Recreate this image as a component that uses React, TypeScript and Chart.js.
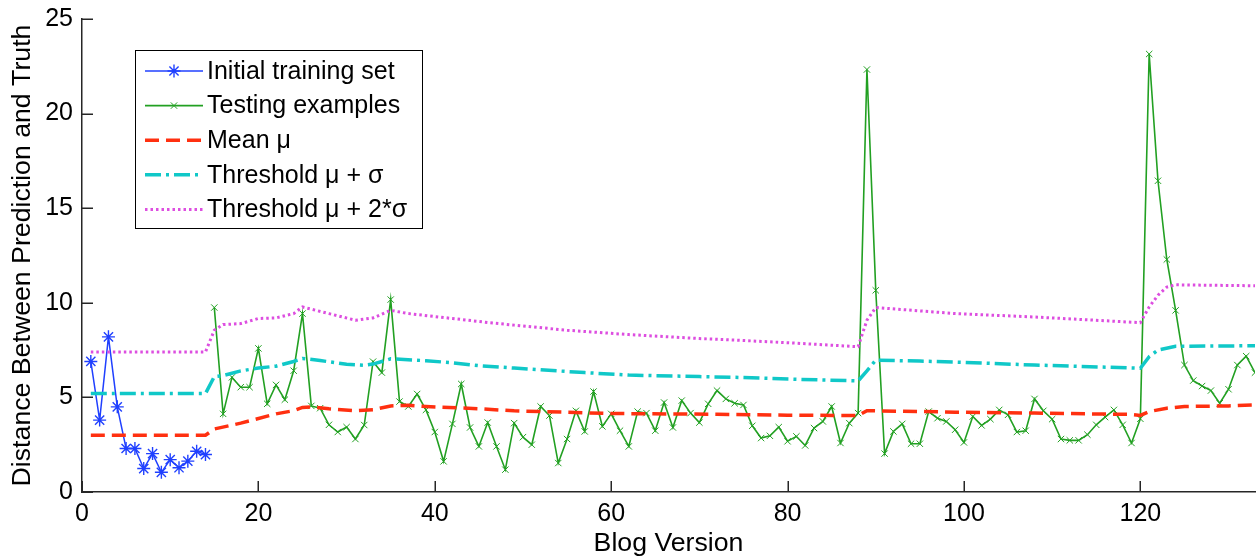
import React, { useEffect, useRef } from 'react';
import { Chart, registerables } from 'chart.js';
import { drawPoint } from 'chart.js/helpers';

Chart.register(...registerables);

// ---- data ----
const trainVersions = [1, 2, 3, 4, 5, 6, 7, 8, 9, 10, 11, 12, 13, 14];
const trainDistance = [6.9, 3.8, 8.2, 4.5, 2.3, 2.3, 1.24, 2.03, 1.04, 1.71, 1.28, 1.63, 2.15, 1.98];

const testFirstVersion = 15;
const testDistance = [
  9.75, 4.13, 6.06, 5.54, 5.54, 7.59, 4.66, 5.66, 4.88, 6.41,
  9.43, 4.55, 4.43, 3.55, 3.17, 3.43, 2.8, 3.54, 6.89, 6.31,
  10.17, 4.78, 4.52, 5.18, 4.34, 3.17, 1.62, 3.6, 5.71, 3.41,
  2.41, 3.67, 2.41, 1.18, 3.64, 2.9, 2.5, 4.52, 4.04, 1.53,
  2.8, 4.29, 3.2, 5.31, 3.47, 4.13, 3.24, 2.41, 4.25, 4.17,
  3.24, 4.73, 3.41, 4.83, 4.17, 3.67, 4.66, 5.36, 4.92, 4.69,
  4.6, 3.5, 2.85, 2.97, 3.43, 2.68, 2.94, 2.46, 3.38, 3.73,
  4.52, 2.59, 3.64, 4.17, 22.33, 10.66, 2.03, 3.2, 3.6, 2.55,
  2.55, 4.25, 3.9, 3.73, 3.29, 2.62, 3.99, 3.52, 3.85, 4.34,
  4.08, 3.17, 3.24, 4.92, 4.29, 3.85, 2.8, 2.73, 2.73, 3.03,
  3.55, 3.96, 4.34, 3.55, 2.59, 3.87, 23.15, 16.45, 12.29, 9.6,
  6.71, 5.89, 5.6, 5.36, 4.69, 5.43, 6.71, 7.18, 6.31,
];

const meanVersions = [1, 14, 15, 18, 22, 24, 25, 26, 28, 31, 33, 35, 37, 39, 45, 49, 60, 72, 80, 88, 89, 99, 108, 119, 120, 121, 123, 125, 130, 133];
const meanValues = [3.0, 3.0, 3.33, 3.64, 4.13, 4.3, 4.47, 4.5, 4.4, 4.3, 4.35, 4.55, 4.58, 4.52, 4.4, 4.29, 4.15, 4.11, 4.06, 4.04, 4.3, 4.22, 4.17, 4.1, 4.05, 4.25, 4.43, 4.52, 4.55, 4.6];

const sigma1Versions = [1, 14, 15, 16, 18, 20, 22, 24, 25, 27, 30, 32, 33, 35, 39, 42, 45, 49, 57, 62, 70, 74, 81, 88, 89, 90, 95, 100, 108, 120, 121, 122, 124, 133];
const sigma1Values = [5.2, 5.2, 6.1, 6.15, 6.4, 6.55, 6.65, 6.9, 7.06, 6.95, 6.75, 6.7, 6.76, 7.04, 6.94, 6.83, 6.68, 6.55, 6.31, 6.18, 6.1, 6.06, 5.96, 5.87, 6.4, 6.97, 6.92, 6.85, 6.71, 6.54, 7.15, 7.5, 7.7, 7.73];

const sigma2Versions = [1, 14, 15, 16, 18, 20, 22, 24, 25, 28, 31, 33, 35, 37, 42, 46, 49, 55, 62, 70, 74, 80, 88, 89, 90, 99, 108, 120, 121, 122, 123, 124, 133];
const sigma2Values = [7.4, 7.4, 8.55, 8.85, 8.9, 9.17, 9.2, 9.43, 9.78, 9.43, 9.08, 9.2, 9.6, 9.43, 9.17, 8.96, 8.82, 8.55, 8.32, 8.11, 8.03, 7.89, 7.68, 9.08, 9.75, 9.43, 9.25, 8.95, 9.78, 10.4, 10.83, 10.95, 10.9];

const xTicks = [0, 20, 40, 60, 80, 100, 120];
const yTicks = [0, 5, 10, 15, 20, 25];

const seriesLabels = [
  'Initial training set',
  'Testing examples',
  'Mean \u03bc',
  'Threshold \u03bc + \u03c3',
  'Threshold \u03bc + 2*\u03c3',
];

const FONT = '"Liberation Sans", Arial, sans-serif';

const zip = (xs: number[], ys: number[]) => xs.map((x, i) => ({ x, y: ys[i] }));

const legendPlugin = {
  id: 'matlabLegend',
  afterDraw(chart: any) {
    const ctx = chart.ctx as CanvasRenderingContext2D;
    ctx.save();
    const bx = 135, by = 50, bw = 287, bh = 178;
    ctx.fillStyle = '#ffffff';
    ctx.fillRect(bx, by, bw, bh);
    ctx.strokeStyle = '#000000';
    ctx.lineWidth = 1;
    ctx.setLineDash([]);
    ctx.strokeRect(bx + 0.5, by + 0.5, bw, bh);
    chart.data.datasets.forEach((ds: any, i: number) => {
      const y = 71 + i * 34.6;
      ctx.save();
      ctx.strokeStyle = ds.borderColor;
      ctx.lineWidth = ds.borderWidth;
      ctx.setLineDash(ds.borderDash || []);
      ctx.beginPath();
      ctx.moveTo(145, y);
      ctx.lineTo(203, y);
      ctx.stroke();
      ctx.setLineDash([]);
      if (ds.pointRadius > 0) {
        ctx.strokeStyle = ds.pointBorderColor;
        ctx.fillStyle = ds.pointBorderColor;
        ctx.lineWidth = ds.pointBorderWidth;
        drawPoint(ctx, { pointStyle: ds.pointStyle, radius: ds.pointRadius, rotation: 0, borderWidth: ds.pointBorderWidth }, 174, y);
      }
      ctx.restore();
      ctx.fillStyle = '#000000';
      ctx.font = `25px ${FONT}`;
      ctx.textBaseline = 'middle';
      ctx.textAlign = 'left';
      ctx.fillText(ds.label, 207, y + 1);
    });
    ctx.restore();
  },
};

const innerTicksPlugin = {
  id: 'innerTicks',
  afterDraw(chart: any) {
    const ctx = chart.ctx as CanvasRenderingContext2D;
    const { x, y } = chart.scales;
    const area = chart.chartArea;
    ctx.save();
    ctx.strokeStyle = '#262626';
    ctx.lineWidth = 1.5;
    ctx.setLineDash([]);
    ctx.beginPath();
    xTicks.forEach((v) => {
      const px = Math.round(x.getPixelForValue(v)) + 0.25;
      ctx.moveTo(px, area.bottom);
      ctx.lineTo(px, area.bottom - 11);
    });
    yTicks.forEach((v) => {
      const py = Math.round(y.getPixelForValue(v)) + 0.25;
      ctx.moveTo(area.left, py);
      ctx.lineTo(area.left + 11, py);
    });
    ctx.stroke();
    ctx.restore();
  },
};

export default function App() {
  const canvasRef = useRef<HTMLCanvasElement | null>(null);

  useEffect(() => {
    document.body.style.margin = '0';
    const canvas = canvasRef.current;
    if (!canvas) return;
    Chart.defaults.font.family = FONT;
    Chart.defaults.color = '#000000';

    const testPoints = testDistance.map((v, i) => ({ x: testFirstVersion + i, y: v }));

    const chart = new Chart(canvas, {
      type: 'line',
      data: {
        datasets: [
          {
            label: seriesLabels[0],
            data: zip(trainVersions, trainDistance),
            borderColor: '#2040ff',
            borderWidth: 1.5,
            pointStyle: 'star',
            pointRadius: 6.5,
            pointBorderColor: '#2040ff',
            pointBackgroundColor: '#2040ff',
            pointBorderWidth: 1.4,
            tension: 0,
            fill: false,
            order: 5,
          } as any,
          {
            label: seriesLabels[1],
            data: testPoints,
            borderColor: '#22a022',
            borderWidth: 1.6,
            pointStyle: 'crossRot',
            pointRadius: 4.5,
            pointBorderColor: '#22a022',
            pointBackgroundColor: '#22a022',
            pointBorderWidth: 1,
            tension: 0,
            fill: false,
            order: 4,
          },
          {
            label: seriesLabels[2],
            data: zip(meanVersions, meanValues),
            borderColor: '#ff3010',
            borderWidth: 3.5,
            borderDash: [14, 7],
            pointRadius: 0,
            tension: 0,
            fill: false,
            order: 3,
          },
          {
            label: seriesLabels[3],
            data: zip(sigma1Versions, sigma1Values),
            borderColor: '#10c8c8',
            borderWidth: 3.5,
            borderDash: [16, 5, 3, 5],
            pointRadius: 0,
            tension: 0,
            fill: false,
            order: 2,
          },
          {
            label: seriesLabels[4],
            data: zip(sigma2Versions, sigma2Values),
            borderColor: '#dd4ee0',
            borderWidth: 3,
            borderDash: [2.5, 3],
            pointRadius: 0,
            tension: 0,
            fill: false,
            order: 1,
          },
        ],
      },
      options: {
        animation: false,
        responsive: false,
        maintainAspectRatio: false,
        layout: { autoPadding: false, padding: { top: 19, right: 2, left: 0, bottom: 0 } },
        plugins: {
          legend: { display: false },
          tooltip: { enabled: false },
          title: { display: false },
        },
        scales: {
          x: {
            type: 'linear',
            min: 0,
            max: 133,
            afterBuildTicks: (scale: any) => {
              scale.ticks = xTicks.map((v) => ({ value: v }));
            },
            afterFit: (scale: any) => {
              scale.height = 64;
              scale.paddingLeft = 0;
              scale.paddingRight = 0;
            },
            grid: { display: false, drawTicks: false },
            border: { display: true, color: '#262626', width: 1.5 },
            ticks: {
              font: { size: 25, family: FONT },
              color: '#000000',
              padding: 7,
              maxRotation: 0,
              autoSkip: false,
            },
            title: {
              display: true,
              text: 'Blog Version',
              font: { size: 26.7, family: FONT, lineHeight: 0.9 },
              color: '#000000',
              padding: { top: 0, bottom: 0 },
            },
          },
          y: {
            type: 'linear',
            min: 0,
            max: 25,
            afterBuildTicks: (scale: any) => {
              scale.ticks = yTicks.map((v) => ({ value: v }));
            },
            afterFit: (scale: any) => {
              scale.width = 82;
              scale.paddingTop = 0;
              scale.paddingBottom = 0;
            },
            grid: { display: false, drawTicks: false },
            border: { display: true, color: '#262626', width: 1.5 },
            ticks: {
              font: { size: 25, family: FONT },
              color: '#000000',
              padding: 9,
              autoSkip: false,
            },
            title: {
              display: true,
              text: 'Distance Between Prediction and Truth',
              font: { size: 26.7, family: FONT, lineHeight: 0.9 },
              color: '#000000',
              padding: { top: 11, bottom: 0 },
            },
          },
        },
      } as any,
      plugins: [innerTicksPlugin, legendPlugin],
    });

    return () => {
      chart.destroy();
    };
  }, []);

  return (
    <div style={{ position: 'absolute', left: 0, top: 0, width: 1257, height: 556, background: '#ffffff' }}>
      <canvas ref={canvasRef} width={1257} height={556} style={{ display: 'block', width: 1257, height: 556 }} />
    </div>
  );
}
